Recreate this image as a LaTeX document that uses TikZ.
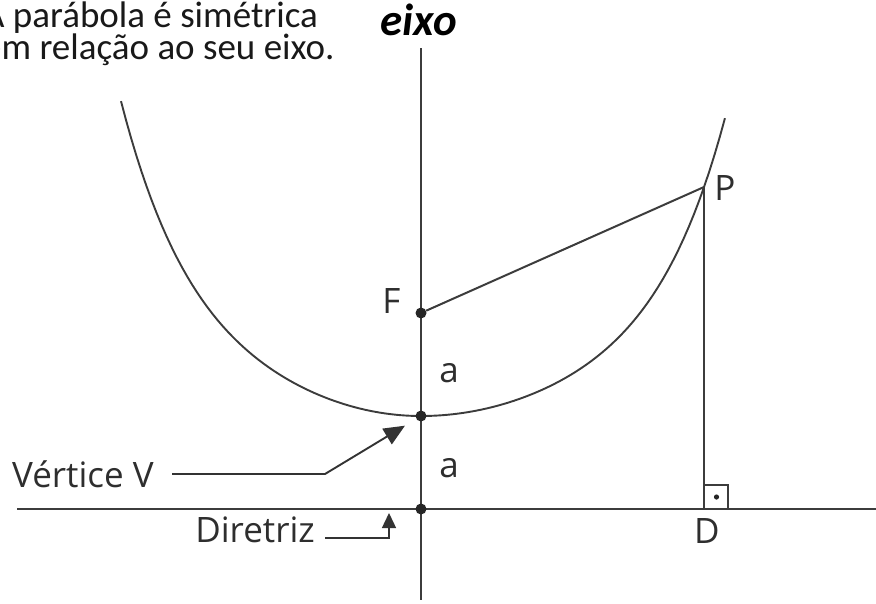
\documentclass[tikz,border=0pt]{standalone}
\usepackage{fontspec}
\setmainfont{Open Sans}
\newfontfamily\calibri{Carlito}
\usetikzlibrary{arrows.meta}
\definecolor{linegray}{HTML}{3C3C3C}
\definecolor{textgray}{HTML}{2E2E2E}

\begin{document}
\begin{tikzpicture}[x=1pt,y=-1pt,
  line/.style={draw=linegray,line width=2pt},
  curve/.style={draw=linegray,line width=1.9pt},
  ponto/.style={circle,fill=black!85,inner sep=0pt,minimum size=11pt},
  rotulo/.style={text=textgray,font=\fontsize{35}{40}\selectfont,inner sep=0pt},
  titulo/.style={text=black!90,font=\calibri\fontsize{37}{40}\selectfont,inner sep=0pt,anchor=base west},
  seta/.style={draw=black!80,line width=1.9pt}]

\useasboundingbox (0,0) rectangle (876,603);
\clip (0,0) rectangle (876,603);

% textos de cima
\node[titulo] (linha1) at (-17,27) {A parábola é simétrica};
\node[titulo] (linha2) at (-17,59) {em relação ao seu eixo.};
\node[anchor=base,inner sep=0pt,font=\calibri\bfseries\itshape\fontsize{45}{50}\selectfont] (eixo) at (419,35) {eixo};

% eixo e diretriz
\coordinate (eixotopo) at (421,48);
\coordinate (eixobase) at (421,600);
\coordinate (dirA) at (17,509);
\coordinate (dirB) at (876,509);
\draw[line] (eixotopo) -- (eixobase);
\draw[line] (dirA) -- (dirB);

% parabola
\draw[curve] plot[domain=-3:0,samples=60] ({421+100*\x},{416-20*\x*\x-0.185*\x*\x*\x*\x*\x*\x});
\draw[curve] plot[domain=0:3.04,samples=60] ({421+100*\x},{416-17.5*\x*\x-0.1727*\x*\x*\x*\x*\x*\x});

% pontos
\node[ponto] (F) at (421,313) {};
\node[ponto] (V) at (421,416) {};
\node[ponto] (Dz) at (421,509) {};
\coordinate (P) at (704,187);
\coordinate (D) at (704,509);

\draw[line] (F) -- (P);
\draw[line] (P) -- (D);
\draw[line,line width=1.6pt] (D) rectangle ++(24,-24);
\fill[black!85] (716.5,497) circle (2.6pt);

% rotulos
\node[rotulo,anchor=base] (Flabel) at (391.5,313) {F};
\node[rotulo,anchor=base] (a1) at (449,382) {a};
\node[rotulo,anchor=base] (a2) at (449,477) {a};
\node[rotulo,anchor=base] (Plabel) at (725,200) {P};
\node[rotulo,anchor=base] (Dlabel) at (707,543) {D};
\node[rotulo,anchor=base west] (vertice) at (12,487) {Vértice V};
\node[rotulo,anchor=base east] (diretriz) at (315,542) {Diretriz};

% setas
\coordinate (vA) at (172,474);
\coordinate (vB) at (325,474);
\draw[seta,-{Triangle[length=21pt,width=18pt]},shorten >=13pt] (vA) -- (vB) -- (V);
\coordinate (dA) at (325,538);
\coordinate (dB) at (389,538);
\coordinate (dC) at (389,513);
\draw[seta,line width=1.4pt,-{Triangle[length=15pt,width=14pt]}] (dA) -- (dB) -- (dC);

\end{tikzpicture}
\end{document}
